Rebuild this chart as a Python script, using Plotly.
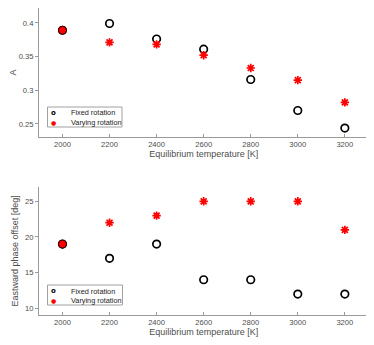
import plotly.graph_objects as go

# equilibrium temperatures [K]
temps = [2000, 2200, 2400, 2600, 2800, 3000, 3200]

# amplitude A
amp_fixed = [0.389, 0.399, 0.376, 0.361, 0.316, 0.270, 0.244]
amp_varying = [0.389, 0.371, 0.368, 0.352, 0.333, 0.315, 0.282]

# eastward phase offset [deg]
off_fixed = [19, 17, 19, 14, 14, 12, 12]
off_varying = [19, 22, 23, 25, 25, 25, 21]

x_ticks = [2000, 2200, 2400, 2600, 2800, 3000, 3200]
amp_ticks = [0.25, 0.3, 0.35, 0.4]
amp_tick_text = ["0.25", "0.3", "0.35", "0.4"]
off_ticks = [10, 15, 20, 25]
legend_names = ["Fixed rotation", "Varying rotation"]

# the page body has an 8px margin, so the figure is a bit smaller than the window
OFF = 8
W, H = 374 - OFF, 345 - OFF


def px(x):
    return (x - OFF) / W


def py(y):
    return 1 - (y - OFF) / H


axcol = "#9a9a9a"
txtcol = "#4d4d4d"
fam = "Liberation Sans, Arial, sans-serif"
font = dict(family=fam, size=7.6, color=txtcol)

fig = go.Figure()

panels = [("", "y", amp_fixed, amp_varying),
          ("2", "y2", off_fixed, off_varying)]

for suffix, yref, fixed, varying in panels:
    fig.add_trace(go.Scatter(x=temps, y=fixed, mode="markers", name=legend_names[0],
                             xaxis="x" + suffix, yaxis=yref, showlegend=False,
                             marker=dict(symbol="circle-open", size=7.5, color="black",
                                         line=dict(width=1.7, color="black"))))
    fig.add_trace(go.Scatter(x=temps[1:], y=varying[1:], mode="markers", name=legend_names[1],
                             xaxis="x" + suffix, yaxis=yref, showlegend=False,
                             marker=dict(symbol="asterisk-open", size=7, color="red",
                                         line=dict(width=1.7, color="red"))))
    # shared starting point
    fig.add_trace(go.Scatter(x=temps[:1], y=varying[:1], mode="markers", showlegend=False,
                             xaxis="x" + suffix, yaxis=yref,
                             marker=dict(symbol="circle", size=8, color="red",
                                         line=dict(width=1, color="#300000"))))

xcommon = dict(range=[1900, 3300], tickvals=x_ticks, showgrid=False, zeroline=False,
               showline=True, linecolor=axcol, linewidth=1, ticks="inside", ticklen=3,
               tickcolor=axcol, tickfont=font, title_font=dict(family=fam, size=9, color=txtcol),
               title_standoff=2)
ycommon = dict(showgrid=False, zeroline=False, showline=True, linecolor=axcol, linewidth=1,
               ticks="outside", ticklen=3, tickcolor=axcol, tickfont=font,
               title_font=dict(family=fam, size=9, color=txtcol), title_standoff=4)

xdom = [px(34.3), px(368.3)]
fig.update_layout(
    width=W, height=H, margin=dict(l=0, r=0, t=0, b=0),
    plot_bgcolor="white", paper_bgcolor="white", showlegend=False,
    xaxis=dict(domain=xdom, anchor="y", title_text="Equilibrium temperature [K]", **xcommon),
    yaxis=dict(domain=[py(137), py(8)], anchor="x", range=[0.2307, 0.422], tickvals=amp_ticks,
               ticktext=amp_tick_text, title_text="A", **ycommon),
    xaxis2=dict(domain=xdom, anchor="y2", title_text="Equilibrium temperature [K]", **xcommon),
    yaxis2=dict(domain=[py(315), py(186.7)], anchor="x2", range=[9.06, 27.05], tickvals=off_ticks,
                title_text="Eastward phase offset [deg]", **ycommon),
)

# hand-made compact legends (pixel boxes: left, top, right, bottom, row1 y, row2 y)
legend_boxes = [(43, 107, 118.5, 127, 112.5, 122), (43, 285, 119, 305, 291, 300.5)]
for x0, y0, x1, y1, r1, r2 in legend_boxes:
    fig.add_shape(type="rect", xref="paper", yref="paper",
                  x0=px(x0), x1=px(x1), y0=py(y1), y1=py(y0),
                  line=dict(color="#a0a0a0", width=1), fillcolor="white", layer="above")
    for ry, sym, col, name in [(r1, "o", "black", legend_names[0]), (r2, "●", "red", legend_names[1])]:
        fig.add_annotation(xref="paper", yref="paper", x=px(49.5), y=py(ry),
                           text="<b>%s</b>" % sym, showarrow=False, xanchor="center", yanchor="middle",
                           font=dict(family="DejaVu Sans", size=7 if sym == "o" else 6, color=col))
        fig.add_annotation(xref="paper", yref="paper", x=px(65), y=py(ry), text=name,
                           showarrow=False, xanchor="left", yanchor="middle",
                           font=dict(family=fam, size=7.3, color="#222"))

fig.write_html("out.html")
